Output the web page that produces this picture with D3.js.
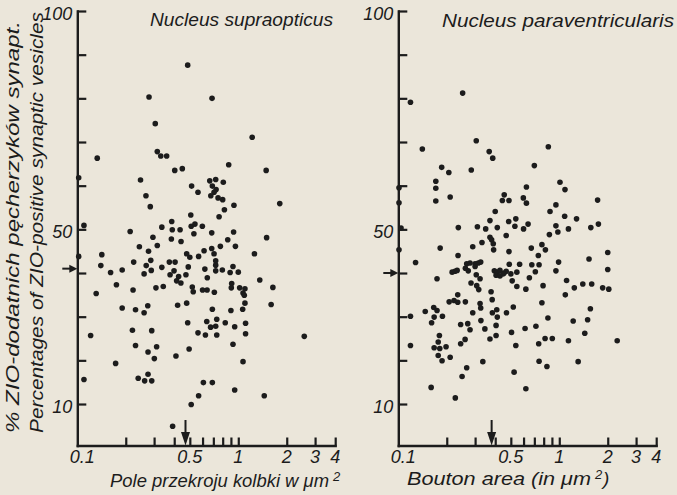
<!DOCTYPE html>
<html>
<head>
<meta charset="utf-8">
<script src="https://cdn.jsdelivr.net/npm/d3@7"></script>
<style>
  body { margin: 0; background: #ebe6da; }
  svg { display: block; }
  text { font-family: "Liberation Sans", Arial, sans-serif; font-style: italic; fill: #1c1c1c; }
</style>
</head>
<body>
<script>
'use strict';

// [bouton area in um2, % ZIO-positive vesicles]
var supraopticus = [
  [0.485,87.6],[0.279,80.3],[0.687,80.0],[0.305,74.2],[1.22,71.1],[0.133,66.3],[0.314,67.8],[0.33,66.8],
  [0.359,66.8],[0.872,64.8],[0.403,63.5],[0.449,63.9],[1.49,63.5],[0.102,61.8],[0.247,61.3],[0.513,59.9],
  [0.562,58.5],[0.665,61.1],[0.724,61.4],[0.807,60.8],[0.69,59.9],[0.728,59.1],[0.707,58.5],[0.675,57.7],
  [0.749,57.2],[0.8,56.8],[0.267,57.7],[0.284,55.2],[0.94,55.5],[1.81,55.9],[0.82,54.5],[0.76,52.9],
  [0.507,53.3],[0.386,51.8],[0.335,50.5],[0.389,49.9],[0.435,49.9],[0.51,50.7],[0.538,51.2],[0.598,50.7],
  [0.53,49.0],[0.684,49.2],[0.213,49.5],[0.295,48.2],[0.384,47.8],[0.441,47.2],[0.935,49.4],[1.5,48.1],
  [0.86,47.6],[0.243,46.0],[0.314,46.3],[0.277,45.0],[0.11,50.9],[0.102,43.8],[0.142,44.2],[0.14,41.7],
  [0.161,40.1],[0.19,40.7],[0.224,42.5],[0.26,39.8],[0.268,41.7],[0.286,42.9],[0.288,40.6],[0.335,41.3],
  [0.373,42.5],[0.405,42.5],[0.377,39.6],[0.399,40.5],[0.426,39.2],[0.414,38.2],[0.44,37.7],[0.478,44.4],
  [0.5,43.6],[0.489,41.4],[0.473,39.6],[0.567,43.8],[0.613,45.1],[0.684,45.6],[0.707,44.4],[0.774,46.1],
  [0.96,46.1],[1.26,44.4],[0.724,42.8],[0.724,41.8],[0.724,40.5],[0.62,40.9],[0.796,40.7],[0.927,41.5],
  [0.89,40.1],[1.0,40.2],[0.642,38.9],[1.36,38.4],[0.175,37.3],[0.131,35.3],[0.222,36.1],[0.308,36.6],
  [0.342,36.9],[0.518,36.8],[0.525,35.7],[0.6,36.1],[0.64,36.1],[0.71,35.6],[0.91,37.6],[0.905,36.6],
  [1.02,36.6],[1.1,36.4],[1.07,35.4],[1.09,34.9],[1.64,36.7],[0.19,32.0],[0.23,31.6],[0.26,30.9],
  [0.274,32.5],[0.42,32.6],[0.478,33.1],[0.69,31.7],[0.9,31.4],[1.065,31.7],[1.1,33.1],[1.6,32.8],
  [0.121,25.7],[0.22,26.9],[0.29,26.8],[0.23,23.4],[0.275,21.9],[0.311,23.1],[0.301,20.4],[0.173,19.3],
  [0.41,21.0],[0.485,28.6],[0.495,22.6],[0.562,26.3],[0.625,25.8],[0.637,28.9],[0.673,27.6],[0.724,27.8],
  [0.735,29.4],[0.735,25.8],[0.83,28.6],[0.95,27.7],[1.11,28.5],[1.11,26.1],[0.927,23.7],[1.07,19.7],
  [2.57,25.5],[0.11,15.6],[0.239,15.9],[0.262,15.3],[0.29,15.3],[0.275,16.8],[0.607,14.9],[0.69,14.9],
  [0.567,11.9],[0.51,9.9],[0.95,13.2],[1.45,11.9],[0.391,4.9]
];

var paraventricularis = [
  [0.251,81.2],[0.119,79.1],[0.305,70.3],[0.141,68.4],[0.855,68.9],[0.367,67.8],[0.386,66.3],[0.186,64.2],
  [0.206,63.0],[0.284,63.6],[0.7,64.6],[0.171,61.0],[0.171,59.4],[0.171,56.5],[0.21,57.4],[0.101,59.5],
  [0.101,56.1],[1.01,60.8],[1.085,59.1],[0.625,59.7],[0.455,57.9],[0.443,56.6],[0.487,56.6],[0.598,57.2],
  [0.625,56.0],[1.73,56.7],[0.4,54.1],[0.953,55.6],[0.876,54.1],[1.08,53.0],[1.28,52.4],[0.371,52.0],
  [0.485,51.8],[0.537,52.4],[0.53,50.7],[0.64,51.2],[0.6,50.1],[1.75,51.2],[1.57,50.4],[0.953,50.8],
  [0.98,49.4],[1.14,50.1],[0.236,50.4],[0.31,50.6],[0.349,50.1],[0.412,50.4],[0.104,50.3],[0.468,48.6],
  [0.868,48.8],[0.371,48.2],[0.38,47.6],[0.389,46.7],[0.331,47.0],[0.29,46.0],[0.182,45.7],[0.101,45.3],
  [0.391,45.3],[0.487,44.9],[0.67,45.7],[0.78,46.5],[0.82,45.3],[0.741,44.0],[0.235,44.0],[0.128,42.4],
  [0.266,42.1],[0.279,42.3],[0.3,42.1],[0.314,42.3],[0.325,42.5],[0.261,41.1],[0.272,40.5],[0.3,41.5],
  [0.216,40.2],[0.225,40.4],[0.232,40.6],[0.305,39.6],[0.322,38.7],[0.283,37.7],[0.307,37.1],[0.316,36.2],
  [0.174,38.7],[0.377,35.7],[0.383,33.9],[0.234,35.0],[0.222,33.7],[0.207,33.4],[0.234,33.3],[0.261,33.4],
  [0.322,33.0],[0.325,32.0],[0.489,42.0],[0.567,42.0],[0.675,41.9],[0.749,41.9],[0.395,40.5],[0.412,40.2],
  [0.428,40.6],[0.454,40.0],[0.468,40.4],[0.5,39.8],[0.405,39.5],[0.428,39.3],[0.447,39.8],[0.545,40.2],
  [0.652,38.9],[0.71,40.3],[0.953,40.5],[0.99,42.5],[1.53,43.2],[2.0,44.7],[2.0,40.8],[0.51,38.2],
  [0.545,36.9],[0.62,36.3],[0.793,37.1],[1.11,38.3],[1.24,36.6],[1.4,37.5],[1.59,37.5],[1.86,36.6],
  [2.03,36.3],[1.09,35.0],[0.78,33.2],[0.518,32.2],[1.56,31.8],[0.147,31.2],[0.166,32.1],[0.174,31.4],
  [0.29,30.9],[0.384,30.9],[0.409,31.6],[0.47,30.9],[0.119,30.1],[0.119,23.4],[0.161,28.6],[0.167,29.9],
  [0.188,30.1],[0.18,25.7],[0.177,24.2],[0.167,22.9],[0.181,22.7],[0.198,23.1],[0.177,21.1],[0.187,19.9],
  [0.21,20.7],[0.16,13.8],[0.226,11.4],[0.244,28.2],[0.27,28.4],[0.279,27.0],[0.244,23.8],[0.26,24.8],
  [0.266,18.3],[0.249,16.3],[0.326,29.1],[0.335,19.7],[0.345,27.2],[0.371,24.9],[0.412,29.9],[0.405,28.0],
  [0.405,25.7],[0.505,26.4],[0.537,23.4],[0.524,17.3],[0.613,27.3],[0.62,13.5],[0.716,27.8],[0.745,23.8],
  [0.749,19.8],[0.816,25.0],[0.905,25.0],[0.85,29.7],[0.838,18.6],[1.14,24.5],[1.22,29.0],[1.31,19.7],
  [1.44,26.2],[1.5,29.3],[2.29,24.5]
];

var panelTitles = ['Nucleus supraopticus', 'Nucleus paraventricularis'];
var xTitles = ['Pole przekroju kolbki w \u03bcm', 'Bouton area (in \u03bcm'];
var yTitles = ['% ZIO-dodatnich p\u0119cherzyk\u00f3w synapt.', 'Percentages of ZIO-positive synaptic vesicles'];
var yTicks = [10, 20, 30, 40, 50, 60, 70, 80, 90, 100];
var yLabels = [10, 50, 100];
var xTicks = [0.2, 0.3, 0.4, 0.5, 0.6, 0.7, 0.8, 0.9, 1, 2, 3, 4];
var xLabels = [0.1, 0.5, 1, 2, 3, 4];
// mean area and mean percentage marked with arrows
var meanArea = [0.47, 0.38];
var meanPercent = [41, 40];

var width = 677;
var height = 495;
var ink = '#1c1c1c';

var svg = d3.select('body').append('svg')
  .attr('width', width)
  .attr('height', height);

var y = d3.scaleLinear().domain([0.5, 100]).range([445.5, 11]);

var panels = [
  { points: supraopticus, left: 77.3, right: 335.2, titleX: 150, titleW: 183, titleY: 26, xtX: 110, xtW: 219, xtY: 487, xtSize: 17.5 },
  { points: paraventricularis, left: 398.3, right: 656.2, titleX: 442, titleW: 232, titleY: 27, xtX: 407, xtW: 184, xtY: 485, xtSize: 19 }
];

panels.forEach(function(p, i) {
  var x = d3.scaleLog().domain([0.1, 4]).range([p.left, p.right]);
  var g = svg.append('g');

  var yAxis = g.append('g')
    .attr('transform', 'translate(' + p.left + ',0)')
    .call(d3.axisRight(y).tickValues(yTicks).tickSize(9).tickSizeOuter(0).tickFormat(''));

  var xAxis = g.append('g')
    .attr('transform', 'translate(0,' + y.range()[0] + ')')
    .call(d3.axisTop(x).tickValues(xTicks).tickSize(8).tickSizeOuter(0).tickFormat(''));

  [yAxis, xAxis].forEach(function(a) {
    a.select('.domain').attr('stroke', ink).attr('stroke-width', 2.4).attr('stroke-linecap', 'square');
    a.selectAll('.tick line').attr('stroke', ink).attr('stroke-width', 2.2);
  });

  g.selectAll('text.ylab')
    .data(yLabels)
    .enter().append('text')
    .attr('class', 'ylab')
    .attr('x', p.left - 5)
    .attr('y', function(d) { return y(d) + 9; })
    .attr('text-anchor', 'end')
    .style('font-size', '18px')
    .text(function(d) { return d; });

  g.selectAll('text.xlab')
    .data(xLabels)
    .enter().append('text')
    .attr('class', 'xlab')
    .attr('x', function(d) { return x(d) + (d === 0.1 ? 5 : 0); })
    .attr('y', 463)
    .attr('text-anchor', 'middle')
    .style('font-size', '18px')
    .text(function(d) { return d; });

  // arrows for the means
  var my = y(meanPercent[i]);
  g.append('line')
    .attr('x1', p.left - 15).attr('x2', p.left - 6)
    .attr('y1', my).attr('y2', my)
    .attr('stroke', ink).attr('stroke-width', 2);
  g.append('path')
    .attr('d', 'M' + (p.left - 8) + ',' + (my - 4) + 'L' + p.left + ',' + my + 'L' + (p.left - 8) + ',' + (my + 4) + 'Z')
    .attr('fill', ink);

  var mx = x(meanArea[i]);
  g.append('line')
    .attr('x1', mx).attr('x2', mx)
    .attr('y1', 420).attr('y2', 434)
    .attr('stroke', ink).attr('stroke-width', 2);
  g.append('path')
    .attr('d', 'M' + (mx - 4.5) + ',432L' + mx + ',' + y.range()[0] + 'L' + (mx + 4.5) + ',432Z')
    .attr('fill', ink);

  g.selectAll('circle')
    .data(p.points)
    .enter().append('circle')
    .attr('cx', function(d) { return x(d[0]); })
    .attr('cy', function(d) { return y(d[1]); })
    .attr('r', 2.8)
    .attr('fill', ink);

  g.append('text')
    .attr('x', p.titleX)
    .attr('y', p.titleY)
    .attr('textLength', p.titleW)
    .attr('lengthAdjust', 'spacingAndGlyphs')
    .style('font-size', '19px')
    .text(panelTitles[i]);

  g.append('text')
    .attr('x', p.xtX)
    .attr('y', p.xtY)
    .attr('textLength', p.xtW)
    .attr('lengthAdjust', 'spacingAndGlyphs')
    .style('font-size', p.xtSize + 'px')
    .text(xTitles[i]);

  g.append('text')
    .attr('x', p.xtX + p.xtW + 4)
    .attr('y', p.xtY - 6)
    .style('font-size', '13px')
    .text('2');

  if (i === 1) {
    g.append('text')
      .attr('x', p.xtX + p.xtW + 12)
      .attr('y', p.xtY)
      .style('font-size', '19px')
      .text(')');
  }
});

svg.selectAll('text.ytitle')
  .data(yTitles)
  .enter().append('text')
  .attr('class', 'ytitle')
  .attr('transform', function(d, i) { return 'translate(' + (19 + i * 24) + ',433) rotate(-90)'; })
  .attr('textLength', function(d, i) { return i === 0 ? 412 : 421; })
  .attr('lengthAdjust', 'spacingAndGlyphs')
  .style('font-size', '19px')
  .text(function(d) { return d; });
</script>
</body>
</html>
